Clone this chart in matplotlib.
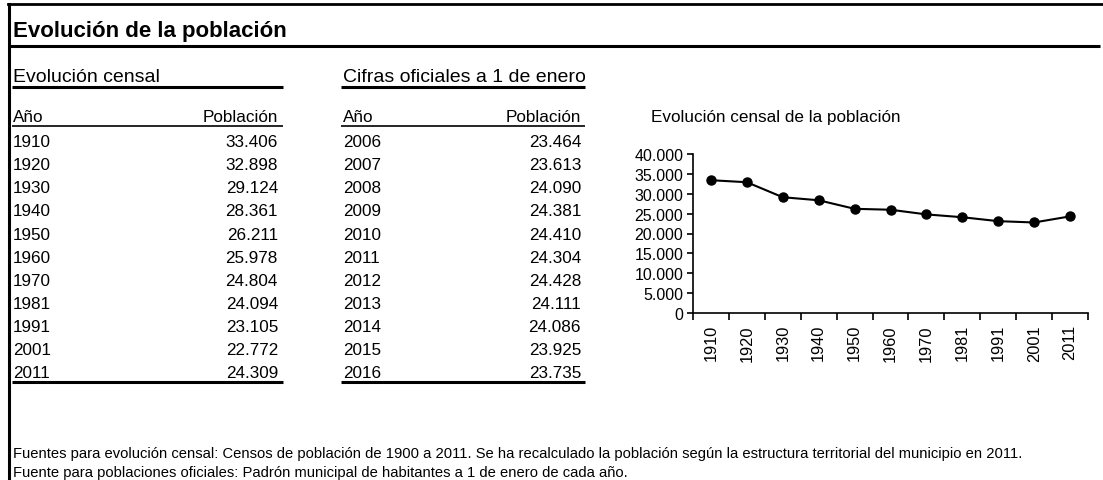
import matplotlib.pyplot as plt
from matplotlib.lines import Line2D
from matplotlib.ticker import FuncFormatter

plt.rcParams['font.family'] = ['Liberation Sans', 'DejaVu Sans']

# data
censo_anios = ["1910", "1920", "1930", "1940", "1950", "1960", "1970", "1981", "1991", "2001", "2011"]
censo_pob = [33406, 32898, 29124, 28361, 26211, 25978, 24804, 24094, 23105, 22772, 24309]
padron_anios = ["2006", "2007", "2008", "2009", "2010", "2011", "2012", "2013", "2014", "2015", "2016"]
padron_pob = [23464, 23613, 24090, 24381, 24410, 24304, 24428, 24111, 24086, 23925, 23735]

W, H = 1103, 481


def fx(x):
    return x / W


def fy(y):
    return 1 - y / H


def miles(v):
    return f"{int(v):,}".replace(",", ".")


fig = plt.figure(figsize=(W / 100, H / 100), dpi=100)


def hline(x0, x1, y, lw):
    fig.add_artist(Line2D([fx(x0), fx(x1)], [fy(y), fy(y)], color="black", lw=lw,
                          solid_capstyle="butt", transform=fig.transFigure))


# frame: top and left border
fig.add_artist(Line2D([fx(8), fx(W)], [fy(4.5), fy(4.5)], color="black", lw=2, transform=fig.transFigure))
fig.add_artist(Line2D([fx(8.5), fx(8.5)], [fy(4.5), fy(H)], color="black", lw=2.2, transform=fig.transFigure))

# main title
fig.text(fx(13), fy(37), "Evolución de la población", fontsize=16, fontweight="bold", va="baseline")
hline(10, 1100, 47, 2.2)

# tables
tablas = [
    ("Evolución censal", censo_anios, censo_pob, 13, 278, 12, 283),
    ("Cifras oficiales a 1 de enero", padron_anios, padron_pob, 343, 581, 341, 585),
]
for titulo, anios, pob, xa, xp, l0, l1 in tablas:
    fig.text(fx(xa), fy(82), titulo, fontsize=14, va="baseline")
    hline(l0, l1, 88, 2.2)
    fig.text(fx(xa), fy(122), "Año", fontsize=12.3, va="baseline")
    fig.text(fx(xp), fy(122), "Población", fontsize=12.3, va="baseline", ha="right")
    hline(l0, l1, 127, 1.2)
    for i, (a, p) in enumerate(zip(anios, pob)):
        yb = 147 + i * 23.15
        fig.text(fx(xa), fy(yb), a, fontsize=12.3, va="baseline")
        fig.text(fx(xp), fy(yb), miles(p), fontsize=12.3, va="baseline", ha="right")
    hline(l0, l1, 383, 2.2)

# chart
fig.text(fx(651), fy(122), "Evolución censal de la población", fontsize=12.3, va="baseline")
ax = fig.add_axes([fx(693), fy(314), fx(1088) - fx(693), fy(155) - fy(314)])
x = list(range(len(censo_anios)))
ax.plot(x, censo_pob, color="black", lw=1.5, marker="o", markersize=6.5)
ax.set_ylim(0, 40000)
ax.set_yticks(range(0, 40001, 5000))
ax.yaxis.set_major_formatter(FuncFormatter(lambda v, p: miles(v)))
ax.set_xlim(-0.5, len(censo_anios) - 0.5)
ax.set_xticks([i - 0.5 for i in range(len(censo_anios) + 1)])
ax.set_xticklabels([])
ax.set_xticks(x, minor=True)
ax.set_xticklabels(censo_anios, minor=True, rotation=90, fontsize=11.8)
ax.tick_params(axis="x", which="minor", length=0, pad=8)
ax.tick_params(axis="x", which="major", length=5, width=1.2, direction="out")
ax.tick_params(axis="y", length=4, width=1.2, labelsize=11.5, pad=3)
for s in ["top", "right"]:
    ax.spines[s].set_visible(False)
for s in ["left", "bottom"]:
    ax.spines[s].set_linewidth(1.2)

# sources
fig.text(fx(13), fy(458), "Fuentes para evolución censal: Censos de población de 1900 a 2011. "
         "Se ha recalculado la población según la estructura territorial del municipio en 2011.",
         fontsize=10.6, va="baseline")
fig.text(fx(13), fy(477), "Fuente para poblaciones oficiales: Padrón municipal de habitantes a 1 de enero de cada año.",
         fontsize=10.6, va="baseline")

fig.savefig("out.png", dpi=100)
